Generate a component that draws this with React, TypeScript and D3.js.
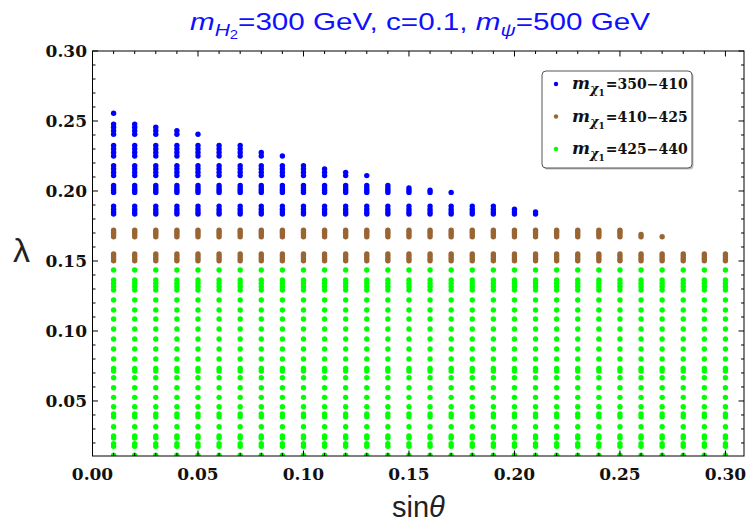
import * as d3 from 'd3'

// sin(theta) scan columns
const SIN_THETA = [
  0.01, 0.02, 0.03, 0.04, 0.05, 0.06, 0.07, 0.08, 0.09, 0.1,
  0.11, 0.12, 0.13, 0.14, 0.15, 0.16, 0.17, 0.18, 0.19, 0.2,
  0.21, 0.22, 0.23, 0.24, 0.25, 0.26, 0.27, 0.28, 0.29, 0.3,
]

// lambda values hit in the scan, per mass band
const BLUE_LAMBDA = [
  0.2555, 0.2478, 0.2455, 0.243, 0.2405, 0.2325, 0.23, 0.2275, 0.225,
  0.218, 0.2157, 0.2133, 0.211, 0.204, 0.2022, 0.2005, 0.199,
  0.1892, 0.187, 0.185, 0.1835,
]
const BROWN_LAMBDA = [0.172, 0.1705, 0.169, 0.1673, 0.155, 0.1535, 0.1518, 0.1502]
const GREEN_LAMBDA = [
  0.1436, 0.1364, 0.134, 0.1317, 0.1293, 0.1221, 0.115, 0.1086, 0.1014,
  0.0943, 0.0871, 0.08, 0.0733, 0.0714, 0.0666, 0.0595, 0.0526, 0.0459,
  0.0407, 0.0388, 0.0316, 0.025, 0.0236, 0.0195, 0.0176, 0.0112,
]

// highest lambda kept in each column (0 = none)
const BLUE_TOP = [
  0.2556, 0.248, 0.2456, 0.2431, 0.2406, 0.2326, 0.2326, 0.2276, 0.2255, 0.2185,
  0.217, 0.214, 0.212, 0.2045, 0.203, 0.201, 0.1995, 0.1895, 0.1895, 0.1875,
  0.1855, 0, 0, 0, 0, 0, 0, 0, 0, 0,
]
const BROWN_TOP = [
  0.1725, 0.1725, 0.1725, 0.1725, 0.1725, 0.1725, 0.1725, 0.1725, 0.1725, 0.1725,
  0.1725, 0.1725, 0.1725, 0.1725, 0.1725, 0.1725, 0.1725, 0.1725, 0.1725, 0.1725,
  0.1725, 0.1725, 0.1725, 0.1725, 0.1725, 0.1692, 0.1675, 0.1555, 0.1555, 0.1555,
]

const BANDS = ['350−410', '410−425', '425−440']
const COLORS = ['#0000ff', '#996633', '#00ff00']
const X_TICKS = [0, 0.05, 0.1, 0.15, 0.2, 0.25, 0.3]
const Y_TICKS = [0.05, 0.1, 0.15, 0.2, 0.25, 0.3]

const W = 750
const H = 528
const L = 92.5
const R = 744
const T = 51
const B = 456

export default function App() {
  const x = d3.scaleLinear([0, 0.3088], [L, R])
  const y = d3.scaleLinear([0.0107, 0.3], [B, T])

  const points: { s: number; l: number; c: string }[] = []
  SIN_THETA.forEach((s, i) => {
    BLUE_LAMBDA.filter((l) => l <= BLUE_TOP[i]).forEach((l) => points.push({ s, l, c: COLORS[0] }))
    BROWN_LAMBDA.filter((l) => l <= BROWN_TOP[i]).forEach((l) => points.push({ s, l, c: COLORS[1] }))
    GREEN_LAMBDA.forEach((l) => points.push({ s, l, c: COLORS[2] }))
  })

  const xMinor = x.ticks(30)
  const yMinor = y.ticks(30)
  const isMajor = (v: number, list: number[]) => list.some((t) => Math.abs(t - v) < 1e-6)
  const tickFont = { fontFamily: 'DejaVu Serif', fontWeight: 'bold' as const, fontSize: 17, fill: '#111' }

  return (
    <svg width={W} height={H} style={{ position: 'absolute', left: 0, top: 0, background: '#fff' }}>
      <defs>
        <clipPath id="plot">
          <rect x={L} y={T} width={R - L} height={B - T} />
        </clipPath>
      </defs>

      {/* title */}
      <text
        x={190}
        y={30}
        fill="#1010ff"
        fontFamily="Liberation Sans"
        fontSize={24}
        textLength={460}
        lengthAdjust="spacingAndGlyphs"
      >
        <tspan fontStyle="italic">m</tspan>
        <tspan fontStyle="italic" fontSize={17} dy={6}>H</tspan>
        <tspan fontSize={12} dy={3}>2</tspan>
        <tspan dy={-9}>=300 GeV, c=0.1, </tspan>
        <tspan fontStyle="italic">m</tspan>
        <tspan fontStyle="italic" fontSize={17} dy={6}>ψ</tspan>
        <tspan dy={-6}>=500 GeV</tspan>
      </text>

      {/* points */}
      <g clipPath="url(#plot)">
        {points.map((p, i) => (
          <circle key={i} cx={x(p.s)} cy={y(p.l)} r={2.7} fill={p.c} />
        ))}
      </g>

      {/* frame */}
      <rect x={L} y={T} width={R - L} height={B - T} fill="none" stroke="#000" strokeWidth={1} />

      {/* x ticks */}
      {xMinor.map((v) => {
        const len = isMajor(v, X_TICKS) ? 5.5 : 3
        return (
          <g key={'x' + v}>
            <line x1={x(v)} x2={x(v)} y1={B} y2={B - len} stroke="#000" />
            <line x1={x(v)} x2={x(v)} y1={T} y2={T + len} stroke="#000" />
          </g>
        )
      })}
      {X_TICKS.map((v) => (
        <text key={'xl' + v} x={x(v)} y={480} textAnchor="middle" {...tickFont}>
          {d3.format('.2f')(v)}
        </text>
      ))}

      {/* y ticks */}
      {yMinor.map((v) => {
        const len = isMajor(v, Y_TICKS) ? 5.5 : 3
        return (
          <g key={'y' + v}>
            <line x1={L} x2={L + len} y1={y(v)} y2={y(v)} stroke="#000" />
            <line x1={R} x2={R - len} y1={y(v)} y2={y(v)} stroke="#000" />
          </g>
        )
      })}
      {Y_TICKS.map((v) => (
        <text key={'yl' + v} x={87} y={y(v) + 6} textAnchor="end" {...tickFont}>
          {d3.format('.2f')(v)}
        </text>
      ))}

      {/* axis labels */}
      <text x={392} y={517} fontFamily="Liberation Sans" fontSize={29} fill="#222">
        sin<tspan fontStyle="italic">θ</tspan>
      </text>
      <text x={13} y={262} fontFamily="Liberation Sans" fontSize={34} fill="#222">
        λ
      </text>

      {/* legend */}
      <rect x={543.5} y={72.5} width={150} height={97} rx={4} fill="#bbb" />
      <rect x={542} y={71} width={150} height={97} rx={4} fill="#fff" stroke="#555" strokeWidth={1} />
      {BANDS.map((b, i) => {
        const cy = 84 + i * 32.5
        return (
          <g key={b}>
            <circle cx={556} cy={cy} r={2.2} fill={COLORS[i]} />
            <text x={572} y={cy + 5} fontFamily="DejaVu Serif" fontWeight="bold" fontSize={17} fill="#111">
              <tspan fontStyle="italic">m</tspan>
              <tspan fontStyle="italic" fontSize={13} dy={4}>χ</tspan>
              <tspan fontSize={9} dy={3}>1</tspan>
              <tspan fontSize={14} dy={-7} dx={1}>={b}</tspan>
            </text>
          </g>
        )
      })}
    </svg>
  )
}
